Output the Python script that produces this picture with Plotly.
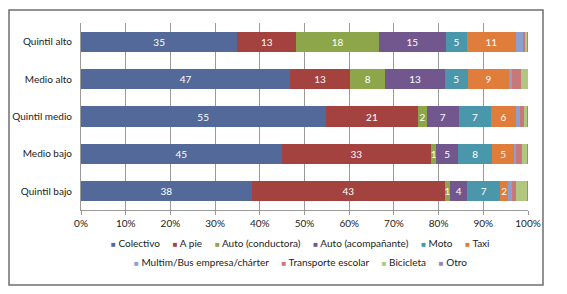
import plotly.graph_objects as go

categories = ["Quintil alto", "Medio alto", "Quintil medio", "Medio bajo", "Quintil bajo"]
series_names = ["Colectivo", "A pie", "Auto (conductora)", "Auto (acompañante)", "Moto", "Taxi",
                "Multim/Bus empresa/chárter", "Transporte escolar", "Bicicleta", "Otro"]

colectivo = [35.0, 46.8, 54.7, 44.9, 38.2]
a_pie = [13.2, 13.4, 20.8, 33.4, 43.2]
auto_conductora = [18.4, 7.9, 1.8, 1.2, 1.2]
auto_acompanante = [15.1, 13.3, 7.3, 4.9, 3.8]
moto = [4.6, 5.1, 7.1, 7.6, 7.4]
taxi = [11.0, 9.3, 5.6, 4.9, 1.8]
multim_bus = [1.5, 0.6, 0.9, 0.4, 0.9]
transporte_escolar = [0.7, 2.0, 1.0, 1.3, 0.8]
bicicleta = [0.4, 1.6, 0.6, 1.2, 2.5]
otro = [0.1, 0.0, 0.2, 0.2, 0.2]

series_values = [colectivo, a_pie, auto_conductora, auto_acompanante, moto, taxi,
                 multim_bus, transporte_escolar, bicicleta, otro]
labelled = [True, True, True, True, True, True, False, False, False, False]
colors = ["#52699A", "#A3423F", "#8DA64A", "#72578F", "#4A97AC", "#E07D3A",
          "#8D9FCF", "#C9787A", "#AFC77E", "#9983B5"]

x_ticks = list(range(0, 101, 10))
x_tick_labels = [f"{t}%" for t in x_ticks]

FONT = "Lato, Open Sans, sans-serif"

fig = go.Figure()
for name, vals, lab, col in zip(series_names, series_values, labelled, colors):
    fig.add_trace(go.Bar(
        y=categories, x=vals, name=name, orientation="h",
        marker=dict(color=col, line=dict(width=0)),
        text=[str(round(v)) for v in vals] if lab else None,
        textposition="inside" if lab else "none",
        insidetextanchor="middle",
        textfont=dict(color="white", size=10, family=FONT),
        showlegend=False,
    ))

fig.update_layout(
    barmode="stack",
    bargap=0.46,
    width=567, height=294,
    margin=dict(l=81, r=39, t=23, b=84),
    paper_bgcolor="white", plot_bgcolor="white",
    font=dict(family=FONT, size=10, color="#222"),
    uniformtext=dict(minsize=10, mode="show"),
    xaxis=dict(range=[0, 100], tickvals=x_ticks, ticktext=x_tick_labels,
               showgrid=True, gridcolor="#9a9a9a", gridwidth=1,
               showline=True, linecolor="#9a9a9a", ticks="outside", ticklen=4,
               tickcolor="#9a9a9a", zeroline=False, fixedrange=True,
               tickfont=dict(size=10, color="#222")),
    yaxis=dict(categoryorder="array", categoryarray=categories, autorange="reversed",
               showline=True, linecolor="#9a9a9a", ticks="", ticklabelstandoff=6,
               tickfont=dict(size=10, color="#222")),
)

# Legend drawn as two centered rows of text
GAP = "\u00a0" * 5
def legend_row(idx):
    parts = []
    for i in idx:
        parts.append(f'<span style="color:{colors[i]};font-size:8px">■</span>\u00a0{series_names[i]}')
    return GAP.join(parts)

fig.add_annotation(xref="paper", yref="paper", x=0.49, y=-0.176, showarrow=False,
                   text=legend_row(range(0, 6)), font=dict(size=10, color="#222"),
                   xanchor="center", yanchor="middle")
fig.add_annotation(xref="paper", yref="paper", x=0.49, y=-0.278, showarrow=False,
                   text=legend_row(range(6, 10)), font=dict(size=10, color="#222"),
                   xanchor="center", yanchor="middle")

# chart frame
fig.add_shape(type="rect", xref="paper", yref="paper",
              x0=(9 - 81) / 447, x1=(543 - 81) / 447,
              y0=(210 - 285) / 187, y1=(210 - 10) / 187,
              line=dict(color="#6f6f6f", width=1.5), layer="below")

fig.write_html("out.html", config={"displayModeBar": False},
               post_script="document.body.style.margin='0';")
